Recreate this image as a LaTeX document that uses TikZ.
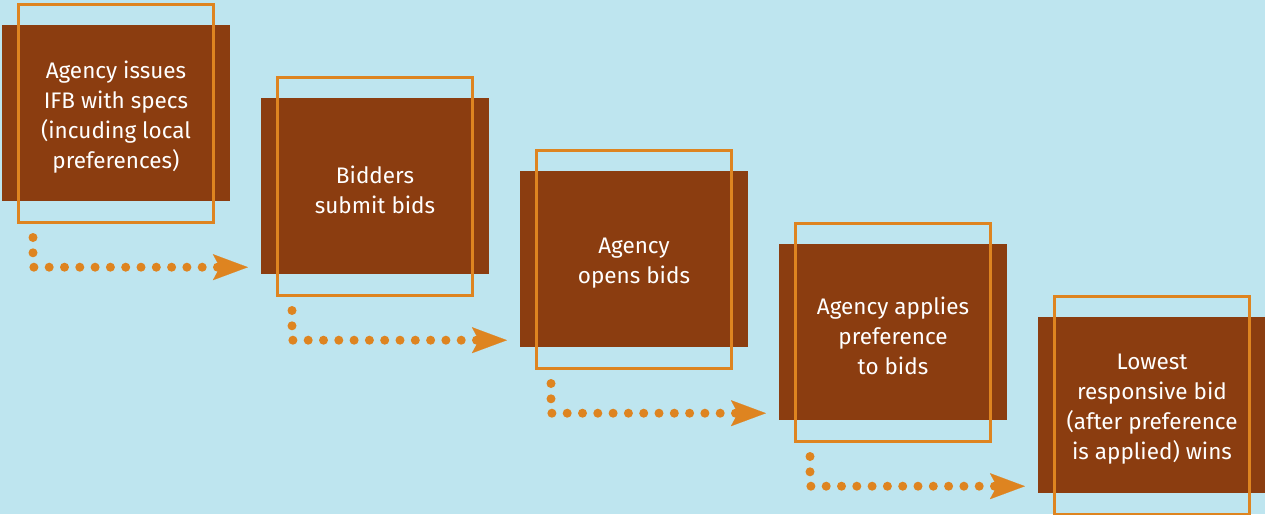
\documentclass[tikz,border=0pt]{standalone}
\usepackage{fontspec}
\setmainfont{Fira Sans}
\usetikzlibrary{arrows.meta,calc}
\definecolor{bgblue}{RGB}{190,229,239}
\definecolor{boxbrown}{RGB}{139,61,16}
\definecolor{lineorange}{RGB}{222,132,32}
\tikzset{
  stepbox/.style={rectangle, fill=boxbrown, draw=none, minimum width=228pt, minimum height=176pt, inner sep=0pt},
  steptext/.style={text=white, align=center, inner sep=0pt, yshift=-4pt, font=\fontsize{22.5}{30}\selectfont},
  frame/.style={rectangle, draw=lineorange, line width=3pt, fill=none, minimum width=195pt, minimum height=218pt, inner sep=0pt},
  dotline/.style={draw=lineorange, line width=9pt, line cap=round, dash pattern=on 0pt off 15.3pt, -{Stealth[length=35pt, width=26pt, inset=7pt, line width=0.1pt, fill=lineorange, round=false]}, shorten >=0pt}
}
\begin{document}
\begin{tikzpicture}[x=1pt,y=-1pt]
\fill[bgblue] (0,0) rectangle (1265,514);
\useasboundingbox (0,0) rectangle (1265,514);
\foreach \i/\x/\y/\t in {1/116/113/{Agency issues\\IFB with specs\\(incuding local\\preferences)},
  2/375/186/{Bidders\\submit bids},
  3/634/259/{Agency\\opens bids},
  4/893/332/{Agency applies\\preference\\to bids},
  5/1152/405/{Lowest\\responsive bid\\(after preference\\is applied) wins}}{
  \node[stepbox] (b\i) at (\x,\y) {};
  \node[steptext] (t\i) at (b\i.center) {\t};
}
\foreach \i/\x/\y in {1/115.5/113, 2/374.5/186, 3/633.5/259, 4/892.5/332, 5/1151.5/405}{
  \node[frame] (o\i) at (\x,\y) {};
}
\foreach \i/\j in {1/2, 2/3, 3/4, 4/5}{
  \coordinate (s\i) at ($(o\i.south west)+(16.5,14)$);
  \coordinate (e\i) at ($(b\j.south west)+(-13,-7)$);
  \draw[dotline] (s\i) |- (e\i);
}
\end{tikzpicture}
\end{document}
